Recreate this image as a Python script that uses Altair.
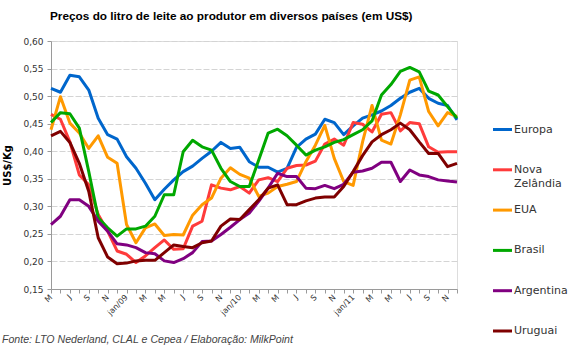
import json
import altair as alt
import pandas as pd

# ---- categories (May 2008 .. Dec 2011) ----
meses = [str(p) for p in pd.period_range("2008-05", "2011-12", freq="M")]
rotulos = ["M", "", "J", "", "S", "", "N", "", "jan/09", "",
           "M", "", "M", "", "J", "", "S", "", "N", "", "jan/10", "",
           "M", "", "M", "", "J", "", "S", "", "N", "", "jan/11", "",
           "M", "", "M", "", "J", "", "S", "", "N", ""]

series = ["Europa", "Nova Zelândia", "EUA", "Brasil", "Argentina", "Uruguai"]
legenda_l1 = ["Europa", "Nova", "EUA", "Brasil", "Argentina", "Uruguai"]
legenda_l2 = ["", "Zelândia", "", "", "", ""]
cores = ["#0066CC", "#FF3B3B", "#FF9900", "#00A800", "#800080", "#7F0000"]

europa = [0.514, 0.507, 0.538, 0.535, 0.511, 0.460, 0.430, 0.422, 0.390, 0.369,
          0.342, 0.312, 0.331, 0.348, 0.363, 0.373, 0.387, 0.400, 0.416, 0.405,
          0.407, 0.381, 0.371, 0.371, 0.362, 0.369, 0.407, 0.422, 0.431, 0.458,
          0.452, 0.430, 0.446, 0.460, 0.466, 0.473, 0.483, 0.496, 0.507, 0.514,
          0.496, 0.487, 0.483, 0.457]
nova_zelandia = [0.467, 0.458, 0.417, 0.357, 0.339, 0.285, 0.255, 0.219, 0.213, 0.198,
                 0.210, 0.225, 0.239, 0.222, 0.223, 0.264, 0.273, 0.339, 0.333, 0.330,
                 0.336, 0.324, 0.348, 0.352, 0.345, 0.369, 0.374, 0.375, 0.382, 0.413,
                 0.422, 0.411, 0.452, 0.449, 0.435, 0.467, 0.470, 0.437, 0.452, 0.450,
                 0.408, 0.398, 0.399, 0.399]
eua = [0.439, 0.499, 0.451, 0.433, 0.405, 0.428, 0.389, 0.378, 0.267, 0.234,
       0.261, 0.268, 0.247, 0.249, 0.248, 0.284, 0.303, 0.315, 0.351, 0.370,
       0.358, 0.351, 0.318, 0.324, 0.336, 0.340, 0.345, 0.381, 0.411, 0.447,
       0.387, 0.345, 0.338, 0.417, 0.483, 0.420, 0.413, 0.466, 0.529, 0.535,
       0.472, 0.446, 0.470, 0.463]
brasil = [0.452, 0.470, 0.468, 0.442, 0.363, 0.279, 0.261, 0.246, 0.259, 0.259,
          0.264, 0.282, 0.321, 0.321, 0.399, 0.420, 0.408, 0.402, 0.369, 0.345,
          0.336, 0.336, 0.384, 0.433, 0.440, 0.428, 0.411, 0.393, 0.402, 0.408,
          0.416, 0.421, 0.430, 0.439, 0.455, 0.502, 0.521, 0.545, 0.552, 0.544,
          0.509, 0.502, 0.481, 0.460]
argentina = [0.267, 0.282, 0.312, 0.312, 0.300, 0.273, 0.255, 0.232, 0.230, 0.225,
             0.216, 0.214, 0.201, 0.198, 0.205, 0.216, 0.236, 0.237, 0.249, 0.262,
             0.276, 0.288, 0.309, 0.333, 0.360, 0.354, 0.354, 0.333, 0.332, 0.338,
             0.332, 0.340, 0.362, 0.364, 0.369, 0.380, 0.380, 0.345, 0.366, 0.357,
             0.354, 0.348, 0.346, 0.344]
uruguai = [0.428, 0.436, 0.416, 0.378, 0.327, 0.243, 0.208, 0.196, 0.197, 0.201,
           0.202, 0.202, 0.216, 0.230, 0.227, 0.225, 0.234, 0.237, 0.264, 0.277,
           0.276, 0.294, 0.312, 0.333, 0.339, 0.303, 0.303, 0.310, 0.315, 0.317,
           0.317, 0.336, 0.363, 0.392, 0.417, 0.430, 0.439, 0.451, 0.439, 0.417,
           0.396, 0.396, 0.372, 0.378]

valores = [europa, nova_zelandia, eua, brasil, argentina, uruguai]
y_ticks = [0.15, 0.20, 0.25, 0.30, 0.35, 0.40, 0.45, 0.50, 0.55, 0.60]

titulo = "Preços do litro de leite ao produtor em diversos países (em US$)"
fonte = "Fonte: LTO Nederland,  CLAL e Cepea / Elaboração: MilkPoint"

rows = []
for s, vals in zip(series, valores):
    for m, v in zip(meses, vals):
        rows.append({"mes": m, "serie": s, "valor": v})
df = pd.DataFrame(rows)
leg_df = pd.DataFrame({"serie": series, "l1": legenda_l1, "l2": legenda_l2})

label_expr = json.dumps(dict(zip(meses, rotulos)), ensure_ascii=False) + "[datum.value]"
cor = alt.Color("serie:N", sort=series, scale=alt.Scale(domain=series, range=cores), legend=None)

lines = alt.Chart(df).mark_line(strokeWidth=3, strokeJoin="round").encode(
    x=alt.X("mes:O", sort=meses, scale=alt.Scale(type="point", padding=0),
            axis=alt.Axis(title=None, labelExpr=label_expr, labelAngle=-45,
                          labelAlign="right", labelBaseline="middle",
                          labelFont="DejaVu Sans", labelFontSize=8, labelColor="#333333",
                          labelPadding=3, tickSize=4, tickColor="#9a9a9a",
                          domainColor="#9a9a9a", grid=False)),
    y=alt.Y("valor:Q", scale=alt.Scale(domain=[0.15, 0.60], nice=False, zero=False),
            axis=alt.Axis(values=y_ticks, title="US$/Kg",
                          labelExpr="replace(format(datum.value, '.2f'), '.', ',')",
                          labelFont="DejaVu Sans", labelFontSize=9, labelColor="#333333",
                          labelPadding=4, tickSize=4, tickColor="#9a9a9a",
                          domainColor="#9a9a9a", grid=True, gridColor="#d4d4d4",
                          gridDash=[6, 2], titleFont="DejaVu Sans", titleFontSize=10,
                          titleFontWeight="bold", titleColor="#000000", titlePadding=10)),
    color=cor,
)

# legend (built from the series list)
leg_y = alt.Y("serie:N", sort=series, axis=None,
              scale=alt.Scale(type="point", domain=series, range=[88.5, 290], padding=0))
leg_rules = alt.Chart(leg_df).mark_rule(strokeWidth=3).encode(
    x=alt.value(442), x2=alt.value(461), y=leg_y, color=cor)
leg_t1 = alt.Chart(leg_df).mark_text(
    align="left", baseline="middle", font="DejaVu Sans", fontSize=11, color="#333333", dx=2
).encode(x=alt.value(461), y=leg_y, text="l1:N")
leg_t2 = alt.Chart(leg_df).mark_text(
    align="left", baseline="middle", font="DejaVu Sans", fontSize=11, color="#333333", dx=2, dy=14
).encode(x=alt.value(461), y=leg_y, text="l2:N")

note = alt.Chart(pd.DataFrame({"t": [fonte]})).mark_text(
    align="left", baseline="alphabetic", font="Liberation Sans", fontSize=10.6,
    fontStyle="italic", color="#444444"
).encode(x=alt.value(-49), y=alt.value(302), text="t:N")

chart = alt.layer(lines, leg_rules, leg_t1, leg_t2, note).resolve_scale(
    y="independent"
).properties(
    width=406, height=248,
    title=alt.Title(titulo, anchor="start", frame="group", dx=-1, offset=5,
                    font="Liberation Sans", fontSize=11.8, fontWeight="bold",
                    color="#000000", baseline="alphabetic"),
    autosize=alt.AutoSizeParams(type="none"),
    padding={"left": 51, "top": 41, "right": 113, "bottom": 61},
).configure_view(strokeWidth=0).configure(background="white")

chart.save("out.html", embed_options={"renderer": "svg", "actions": False})
